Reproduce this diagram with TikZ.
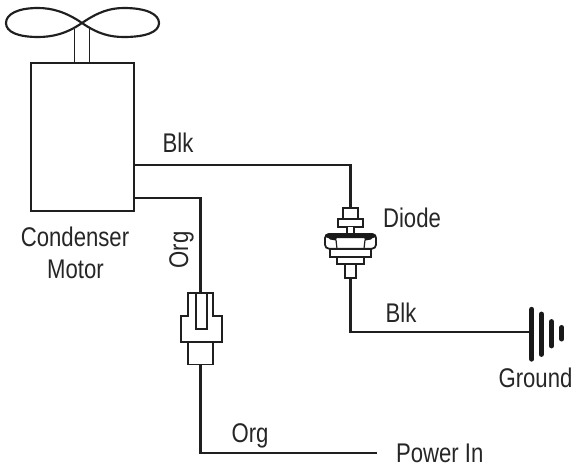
\documentclass[tikz,border=0pt]{standalone}
\usepackage{fontspec}
\setmainfont[FakeStretch=0.82]{Liberation Sans}
\begin{document}
\begin{tikzpicture}[x=1pt,y=-1pt,
  wire/.style={line width=2.15pt,draw=black!88},
  part/.style={draw=black!88,line width=1.8pt,fill=white,inner sep=0pt,outer sep=0pt,rectangle},
  lbl/.style={inner sep=0pt,anchor=base,font=\fontsize{27}{30}\selectfont,text=black!85},
  bar/.style={line width=#1,line cap=round,draw=black!90}]
\useasboundingbox (0,0) rectangle (576,468);
% fan
\draw[wire] (82,23) .. controls (66,12) and (52,8) .. (38,8) .. controls (18,8) and (6,14) .. (6,23)
  .. controls (6,32) and (18,37) .. (38,37) .. controls (52,37) and (66,34) .. (82,23)
  .. controls (98,12) and (110,8) .. (124,8) .. controls (146,8) and (159,14) .. (159,23)
  .. controls (159,32) and (146,37) .. (124,37) .. controls (110,37) and (98,34) .. (82,23);
\coordinate (s1a) at (74.5,29); \coordinate (s1b) at (74.5,63);
\coordinate (s2a) at (89.5,29); \coordinate (s2b) at (89.5,63);
\draw[part] (s1a) -- (s1b);
\draw[part] (s2a) -- (s2b);
% motor
\node[part,line width=2pt,minimum width=102.7pt,minimum height=147.7pt] (motor) at (82.4,136.9) {};
% diode
\node[part,minimum width=15pt,minimum height=11pt] (dcap) at (350.5,213.5) {};
\node[part,minimum width=25pt,minimum height=8pt] (dflange) at (350.5,222.7) {};
\node[part,minimum width=6.5pt,minimum height=8pt] (dneck) at (350.5,230.5) {};
\draw[part,rounded corners=4pt] (325,248.7) -- (325,234) -- (376,234) -- (376,248.7) -- cycle;
\fill[black!90,rounded corners=3pt] (325,238) -- (325,233.5) -- (376,233.5) -- (376,238) -- cycle;
\fill[black!90] (328,237) -- (337,237) -- (336,240.5) -- (330,239.5) -- cycle;
\fill[black!90] (364,237) -- (373,237) -- (371,239.5) -- (365,240.5) -- cycle;
\draw[line width=1.2pt,black!88] (336,240) -- (337,248.7) (365,240) -- (364,248.7);
\node[part,minimum width=40.5pt,minimum height=8pt] (dring) at (350.4,252.7) {};
\node[part,minimum width=27pt,minimum height=7.5pt] (dbase) at (350.4,260.4) {};
\node[part,minimum width=10.7pt,minimum height=14pt] (dtail) at (350.5,271) {};
% connector
\node[part,minimum width=25.4pt,minimum height=24pt] (ctop) at (200.5,305) {};
\node[part,minimum width=25.4pt,minimum height=23pt] (cbot) at (200.5,353) {};
\node[part,minimum width=41pt,minimum height=25.7pt] (cmid) at (201.2,328.8) {};
\fill[white] (189,312) rectangle (212,318);
\draw[part] (187.8,293) -- (187.8,316) (213.2,293) -- (213.2,316);
\node[part,minimum width=10.7pt,minimum height=36pt] (cpin) at (201.3,311) {};
% ground
\node[inner sep=0pt,minimum width=5pt,minimum height=54pt] (g1) at (531.7,332.3) {};
\draw[bar=5.4pt] (531.7,309.5) -- (531.7,359);
\draw[bar=4.8pt] (541.3,314) -- (541.3,354.5);
\draw[bar=4.8pt] (551.7,321.5) -- (551.7,346);
\draw[bar=5pt] (561.7,327.5) -- (561.7,339);
% wires
\coordinate (m1) at (motor.east |- 0,164.7);
\coordinate (m2) at (motor.east |- 0,198);
\coordinate (pw) at (376.7,453);
\draw[wire] (m1) -- (dcap.north |- m1) -- (dcap.north);
\draw[wire] (m2) -- (ctop.north |- m2) -- (ctop.north);
\draw[wire] (dtail.south) -- (dtail.south |- g1.west) -- (g1.west);
\draw[wire] (cbot.south) -- (cbot.south |- pw) -- (pw);
% labels
\node[lbl] (l1) at (178,153) {Blk};
\node[lbl] (l2) at (412,227.5) {Diode};
\node[lbl] (l3) at (75,246) {Condenser};
\node[lbl] (l4) at (75.5,278) {Motor};
\node[lbl,rotate=90] (l5) at (188,250) {Org};
\node[lbl] (l6) at (401,322.5) {Blk};
\node[lbl] (l7) at (535.5,387) {Ground};
\node[lbl] (l8) at (250,442) {Org};
\node[lbl] (l9) at (439.7,462) {Power In};
\end{tikzpicture}
\end{document}
